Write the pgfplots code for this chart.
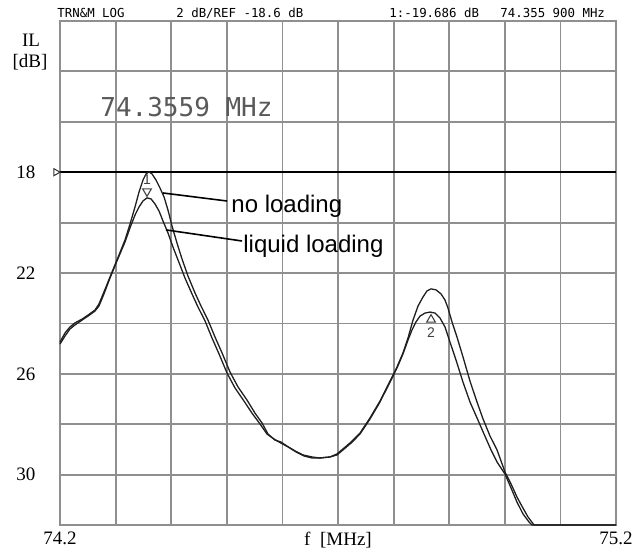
\documentclass[border=0pt]{standalone}
\usepackage{fontspec}
\setmainfont{Liberation Serif}
\newfontfamily\sansf{Liberation Sans}
\newfontfamily\monof{DejaVu Sans Mono}
\usepackage{pgfplots}
\pgfplotsset{compat=1.18}
\definecolor{gridc}{gray}{0.56}
\definecolor{curvec}{gray}{0.12}
\begin{document}
\begin{tikzpicture}
\begin{axis}[
  scale only axis, width=278pt, height=252pt,
  xmin=74.2, xmax=75.2, ymin=12, ymax=32, y dir=reverse,
  xtick={74.2,74.3,74.4,74.5,74.6,74.7,74.8,74.9,75.0,75.1,75.2},
  xticklabels={74.2,,,,,f\enspace[MHz],,,,,75.2},
  ytick={12,14,16,18,20,22,24,26,28,30,32},
  yticklabels={,,,18,,22,,26,,30,},
  grid=major, major grid style={gridc, line width=0.9pt},
  axis line style={gridc, line width=0.9pt},
  major tick length=0pt,
  clip=false,
  tick label style={font=\fontsize{9.5}{11}\selectfont},
  yticklabel style={anchor=center, xshift=-17pt},
]
% reference level line
\addplot[black, line width=0.75pt] coordinates {(74.2,18) (75.2,18)};
\addplot[only marks, mark=triangle, mark size=2pt, mark options={rotate=-90, draw=black!80, line width=0.5pt}] coordinates {(74.1928,18)};
% no loading
\addplot[curvec, line width=0.65pt] coordinates {
(74.2000,24.74) (74.2090,24.38) (74.2180,24.14) (74.2270,23.98) (74.2396,23.83)
(74.2504,23.67) (74.2629,23.47) (74.2701,23.23) (74.2791,22.75) (74.2899,22.16)
(74.3025,21.48) (74.3169,20.69) (74.3259,20.06) (74.3349,19.38) (74.3421,18.79)
(74.3493,18.31) (74.3547,18.07) (74.3601,17.99) (74.3655,18.07) (74.3727,18.31)
(74.3799,18.63) (74.3871,18.98) (74.3942,19.50) (74.4014,20.13) (74.4104,20.81)
(74.4194,21.44) (74.4302,22.12) (74.4428,22.79) (74.4536,23.31) (74.4662,23.87)
(74.4788,24.54) (74.4914,25.17) (74.5058,25.93) (74.5201,26.52) (74.5363,27.04)
(74.5507,27.56) (74.5633,27.95) (74.5741,28.39) (74.5867,28.63) (74.5975,28.71)
(74.6083,28.87) (74.6227,29.06) (74.6371,29.22) (74.6532,29.30) (74.6676,29.34)
(74.6856,29.30) (74.6982,29.18) (74.7090,28.98) (74.7234,28.71) (74.7396,28.35)
(74.7576,27.75) (74.7755,27.08) (74.7935,26.29) (74.8061,25.73) (74.8169,25.17)
(74.8259,24.58) (74.8349,23.87) (74.8439,23.31) (74.8529,22.95) (74.8601,22.71)
(74.8673,22.63) (74.8763,22.67) (74.8853,22.83) (74.8924,23.07) (74.8978,23.39)
(74.9050,23.94) (74.9140,24.54) (74.9248,25.33) (74.9374,26.29) (74.9500,27.12)
(74.9608,27.79) (74.9734,28.47) (74.9860,29.02) (75.0004,29.90) (75.0112,30.37)
(75.0219,30.89) (75.0327,31.33) (75.0417,31.68) (75.0525,32.00) (75.2000,32.00)
};
% liquid loading
\addplot[curvec, line width=0.65pt] coordinates {
(74.2000,24.82) (74.2090,24.50) (74.2180,24.22) (74.2270,24.06) (74.2396,23.87)
(74.2504,23.71) (74.2629,23.51) (74.2701,23.31) (74.2791,22.83) (74.2899,22.20)
(74.3025,21.52) (74.3169,20.77) (74.3259,20.21) (74.3349,19.70) (74.3421,19.38)
(74.3493,19.14) (74.3565,19.02) (74.3637,19.06) (74.3709,19.26) (74.3781,19.54)
(74.3853,19.94) (74.3942,20.41) (74.4032,20.97) (74.4122,21.48) (74.4248,22.20)
(74.4374,22.83) (74.4482,23.35) (74.4608,23.90) (74.4734,24.58) (74.4860,25.21)
(74.5004,25.97) (74.5147,26.56) (74.5309,27.08) (74.5453,27.56) (74.5597,27.99)
(74.5723,28.39) (74.5849,28.59) (74.5975,28.75) (74.6101,28.90) (74.6245,29.10)
(74.6388,29.26) (74.6532,29.34) (74.6676,29.34) (74.6856,29.30) (74.6982,29.22)
(74.7090,29.02) (74.7234,28.75) (74.7396,28.39) (74.7576,27.79) (74.7755,27.12)
(74.7935,26.33) (74.8061,25.77) (74.8169,25.21) (74.8259,24.66) (74.8331,24.26)
(74.8403,23.94) (74.8475,23.71) (74.8565,23.59) (74.8655,23.55) (74.8745,23.59)
(74.8835,23.79) (74.8924,24.14) (74.9014,24.74) (74.9122,25.45) (74.9248,26.33)
(74.9374,27.12) (74.9500,27.75) (74.9626,28.39) (74.9752,29.02) (74.9860,29.50)
(75.0004,29.98) (75.0112,30.53) (75.0219,31.09) (75.0327,31.56) (75.0435,31.88)
(75.0489,32.00) (75.2000,32.00)
};
% markers
\addplot[only marks, mark=triangle, mark size=2.5pt, mark options={rotate=180, draw=black!75, line width=0.55pt}] coordinates {(74.3565,18.76)};
\addplot[only marks, mark=triangle, mark size=2.5pt, mark options={draw=black!75, line width=0.55pt}] coordinates {(74.8673,23.85)};
\node[font=\sansf\fontsize{7}{7}\selectfont, text=black!75] at (axis cs:74.3565,18.28) {1};
\node[font=\sansf\fontsize{7}{7}\selectfont, text=black!75] at (axis cs:74.8673,24.36) {2};
% leader lines
\addplot[black, line width=0.8pt] coordinates {(74.3853,18.825) (74.5004,19.143)};
\addplot[black, line width=0.8pt] coordinates {(74.3906,20.29) (74.5273,20.73)};
\node[anchor=base west, inner sep=0pt, font=\sansf\fontsize{12}{14}\selectfont] at (axis cs:74.5076,19.58) {no loading};
\node[anchor=base west, inner sep=0pt, font=\sansf\fontsize{12}{14}\selectfont] at (axis cs:74.5291,21.17) {liquid loading};
% big frequency readout
\node[anchor=west, inner sep=0pt, font=\monof\fontsize{13}{15}\selectfont, text=black!65] at (axis cs:74.2719,15.41) {74.3559 MHz};
% header
\node[anchor=west, inner sep=0pt, font=\monof\fontsize{6.2}{7}\selectfont] at (axis cs:74.1946,11.683) {TRN\&M LOG};
\node[anchor=west, inner sep=0pt, font=\monof\fontsize{6.2}{7}\selectfont] at (axis cs:74.4086,11.683) {2 dB/REF -18.6 dB};
\node[anchor=west, inner sep=0pt, font=\monof\fontsize{6.2}{7}\selectfont] at (axis cs:74.7917,11.683) {1:-19.686 dB};
\node[anchor=west, inner sep=0pt, font=\monof\fontsize{6.2}{7}\selectfont] at (axis cs:74.9914,11.683) {74.355 900 MHz};
% y label
\node[font=\fontsize{9.5}{11}\selectfont] at (axis cs:74.1478,12.754) {IL};
\node[font=\fontsize{9.5}{11}\selectfont] at (axis cs:74.1460,13.63) {[dB]};
\coordinate (bl) at (axis cs:74.2,32);
\coordinate (tr) at (axis cs:75.2,12);
\end{axis}
\pgfresetboundingbox
\path[use as bounding box] ([shift={(-30pt,-12.5pt)}]bl) rectangle ([shift={(9.5pt,10.5pt)}]tr);
\end{tikzpicture}
\end{document}
